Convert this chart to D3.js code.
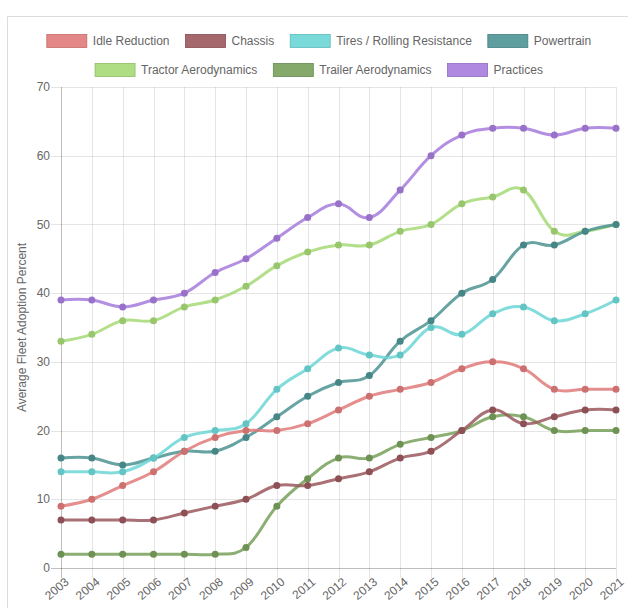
<!DOCTYPE html>
<html>
<head>
<meta charset="utf-8">
<script src="https://cdn.jsdelivr.net/npm/d3@7/dist/d3.min.js"></script>
<style>
  html, body { margin: 0; padding: 0; background: #fff; }
  svg { display: block; }
</style>
</head>
<body>
<svg id="chart" width="628" height="608"></svg>
<script>
const years = ["2003","2004","2005","2006","2007","2008","2009","2010","2011","2012","2013","2014","2015","2016","2017","2018","2019","2020","2021"];
const seriesNames = ["Idle Reduction","Chassis","Tires / Rolling Resistance","Powertrain","Tractor Aerodynamics","Trailer Aerodynamics","Practices"];
const idleReduction = [9,10,12,14,17,19,20,20,21,23,25,26,27,29,30,29,26,26,26];
const chassis = [7,7,7,7,8,9,10,12,12,13,14,16,17,20,23,21,22,23,23];
const tires = [14,14,14,16,19,20,21,26,29,32,31,31,35,34,37,38,36,37,39];
const powertrain = [16,16,15,16,17,17,19,22,25,27,28,33,36,40,42,47,47,49,50];
const tractorAero = [33,34,36,36,38,39,41,44,46,47,47,49,50,53,54,55,49,49,50];
const trailerAero = [2,2,2,2,2,2,3,9,13,16,16,18,19,20,22,22,20,20,20];
const practices = [39,39,38,39,40,43,45,48,51,53,51,55,60,63,64,64,63,64,64];
const yTicks = [0,10,20,30,40,50,60,70];
const yTitle = "Average Fleet Adoption Percent";

const seriesValues = [idleReduction, chassis, tires, powertrain, tractorAero, trailerAero, practices];
const colors = ["#e07a7a","#9a585d","#6cd6d6","#4d9393","#a6d977","#77a05b","#a67bdc"];

const svg = d3.select("#chart");
const font = "'Liberation Sans', Arial, Helvetica, sans-serif";
const textColor = "#666";

// card border
svg.append("line").attr("x1",7.5).attr("x2",7.5).attr("y1",16.5).attr("y2",608).attr("stroke","#dcdcdc");
svg.append("line").attr("x1",7.5).attr("x2",628).attr("y1",16.5).attr("y2",16.5).attr("stroke","#dcdcdc");

const x = d3.scalePoint().domain(years).range([61, 616]);
const y = d3.scaleLinear().domain([0,70]).range([568, 87]);

// horizontal grid
const gGrid = svg.append("g");
yTicks.forEach(t => {
  gGrid.append("line")
    .attr("x1", 51).attr("x2", 616)
    .attr("y1", Math.round(y(t)) + 0.5).attr("y2", Math.round(y(t)) + 0.5)
    .attr("stroke", t === 0 ? "rgba(0,0,0,0.25)" : "rgba(0,0,0,0.1)");
});
// vertical grid
years.forEach(yr => {
  gGrid.append("line")
    .attr("x1", Math.round(x(yr)) + 0.5).attr("x2", Math.round(x(yr)) + 0.5)
    .attr("y1", 87).attr("y2", 578)
    .attr("stroke", yr === years[0] ? "rgba(0,0,0,0.25)" : "rgba(0,0,0,0.1)");
});

// y tick labels
yTicks.forEach(t => {
  svg.append("text")
    .attr("x", 50).attr("y", y(t)).attr("dy", "0.35em")
    .attr("text-anchor", "end")
    .attr("font-family", font).attr("font-size", 12).attr("fill", textColor)
    .text(t);
});

// x tick labels rotated
years.forEach(yr => {
  svg.append("text")
    .attr("transform", `translate(${x(yr)+6},${580}) rotate(-40)`)
    .attr("text-anchor", "end")
    .attr("dy", "0.35em")
    .attr("font-family", font).attr("font-size", 12).attr("fill", textColor)
    .text(yr);
});

// y title
svg.append("text")
  .attr("transform", `translate(26,${(87+568)/2}) rotate(-90)`)
  .attr("text-anchor", "middle")
  .attr("font-family", font).attr("font-size", 12).attr("fill", textColor)
  .text(yTitle);

// lines
const line = d3.line()
  .x((d,i) => x(years[i]))
  .y(d => y(d))
  .curve(d3.curveCardinal.tension(-0.2));

for (let s = seriesValues.length - 1; s >= 0; s--) {
  const g = svg.append("g");
  g.append("path")
    .attr("d", line(seriesValues[s]))
    .attr("fill", "none")
    .attr("stroke", colors[s])
    .attr("stroke-opacity", 0.85)
    .attr("stroke-width", 3);
  g.selectAll("circle").data(seriesValues[s]).join("circle")
    .attr("cx", (d,i) => x(years[i]))
    .attr("cy", d => y(d))
    .attr("r", 3.5)
    .attr("fill", d3.color(colors[s]).darker(0.25))
    .attr("stroke", "none");
}

// legend
const rows = [[0,1,2,3],[4,5,6]];
const rowY = [41, 70];
const center = 319;
const measure = svg.append("text").attr("font-family", font).attr("font-size", 12).attr("visibility","hidden");
function tw(str) { measure.text(str); return measure.node().getComputedTextLength(); }
rows.forEach((row, ri) => {
  const widths = row.map(i => 40 + 6 + tw(seriesNames[i]));
  const total = d3.sum(widths) + 16 * (row.length - 1);
  let cx = center - total / 2;
  row.forEach((i, k) => {
    svg.append("rect")
      .attr("x", cx).attr("y", rowY[ri] - 6.5).attr("width", 40).attr("height", 13)
      .attr("fill", colors[i]).attr("fill-opacity", 0.9)
      .attr("stroke", d3.color(colors[i]).darker(0.4)).attr("stroke-width", 0.8);
    svg.append("text")
      .attr("x", cx + 46).attr("y", rowY[ri]).attr("dy", "0.35em")
      .attr("font-family", font).attr("font-size", 12).attr("fill", textColor)
      .text(seriesNames[i]);
    cx += widths[k] + 16;
  });
});
measure.remove();
</script>
</body>
</html>
